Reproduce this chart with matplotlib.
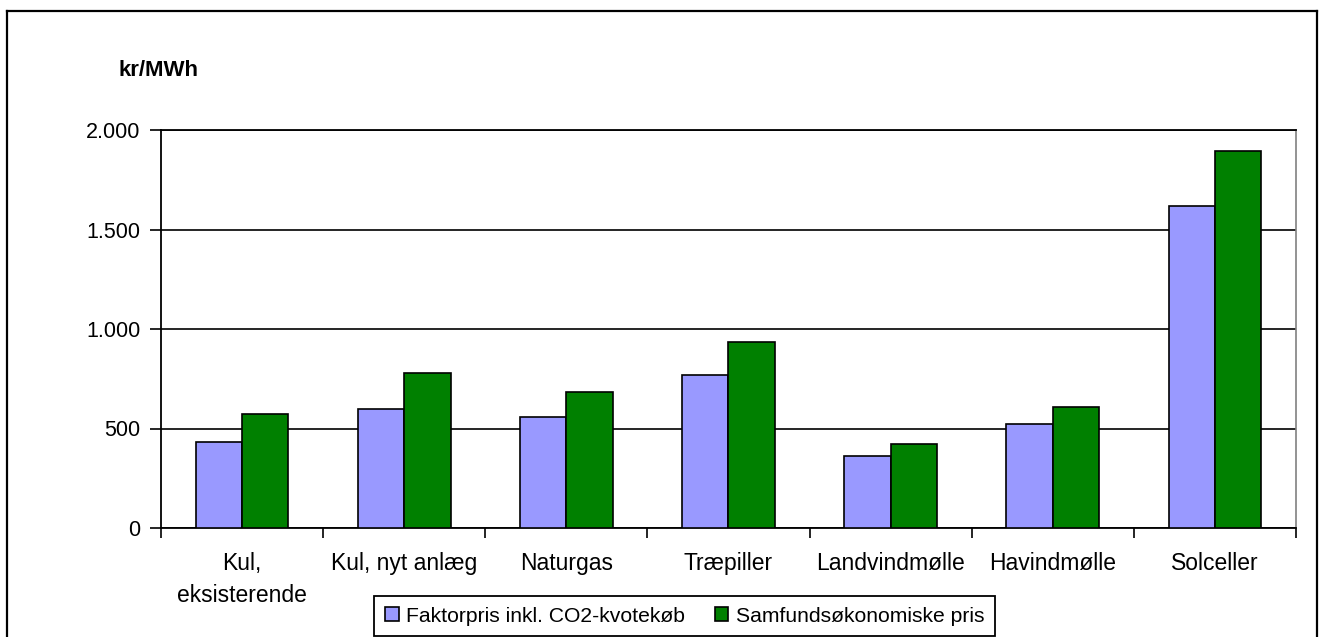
import matplotlib
matplotlib.use("Agg")
import matplotlib.pyplot as plt
import numpy as np
from matplotlib.lines import Line2D
from matplotlib.ticker import FuncFormatter

plt.rcParams["font.family"] = ["Liberation Sans", "DejaVu Sans"]

categories = ["Kul,\neksisterende", "Kul, nyt anlæg", "Naturgas", "Træpiller",
              "Landvindmølle", "Havindmølle", "Solceller"]
faktorpris = [432, 600, 556, 769, 362, 521, 1617]
samfund = [573, 779, 682, 937, 424, 610, 1893]
series_names = ["Faktorpris inkl. CO2-kvotekøb", "Samfundsøkonomiske pris"]
yticks = [0, 500, 1000, 1500, 2000]

W, H = 1321, 637
fig = plt.figure(figsize=(W / 100, H / 100), dpi=100)
ax = fig.add_axes((161 / W, 1 - 528 / H, (1296 - 161) / W, (528 - 130) / H))

x = np.arange(len(categories))
bw = 2 / 7
ax.bar(x - bw / 2, faktorpris, bw, color="#9999FF", edgecolor="black", linewidth=1.2,
       label=series_names[0], zorder=3)
ax.bar(x + bw / 2, samfund, bw, color="#008000", edgecolor="black", linewidth=1.2,
       label=series_names[1], zorder=3)

ax.set_xlim(-0.5, len(categories) - 0.5)
ax.set_ylim(0, 2000)
ax.set_yticks(yticks)
ax.yaxis.set_major_formatter(FuncFormatter(lambda v, p: f"{int(v):,}".replace(",", ".")))
ax.yaxis.grid(True, color="black", linewidth=1.2, zorder=0)

ax.set_xticks(np.arange(len(categories) + 1) - 0.5)
ax.set_xticklabels([])
ax.set_xticks(x, minor=True)
ax.set_xticklabels(categories, minor=True, fontsize=16.5, linespacing=1.5)
ax.tick_params(axis="x", which="minor", length=0, pad=17)
ax.tick_params(axis="x", which="major", length=7, width=1.2, direction="out")
ax.tick_params(axis="y", length=8, width=1.2, direction="out", labelsize=15.5, pad=7)

for s in ["left", "bottom", "top"]:
    ax.spines[s].set_linewidth(1.3)
    ax.spines[s].set_color("black")
ax.spines["right"].set_color("#808080")
ax.spines["right"].set_linewidth(1.2)

fig.text(118 / W, 1 - 70 / H, "kr/MWh", fontsize=16, fontweight="bold", va="center", ha="left")

leg = fig.legend(loc="center", bbox_to_anchor=(684.5 / W, 1 - 616 / H), ncol=2,
                 fontsize=15.2, frameon=True, fancybox=False, edgecolor="black",
                 framealpha=1, handlelength=0.65, handleheight=0.65, handletextpad=0.35,
                 columnspacing=1.4, borderpad=0.5, borderaxespad=0)
leg.get_frame().set_linewidth(1.3)

# outer chart border
for xs, ys in [([7, 7], [11, H + 5]), ([7, 1317], [11, 11]), ([1317, 1317], [11, H + 5])]:
    fig.add_artist(Line2D([v / W for v in xs], [1 - v / H for v in ys], color="black",
                          linewidth=1.6, transform=fig.transFigure))

fig.savefig("out.png", dpi=100, facecolor="white")
